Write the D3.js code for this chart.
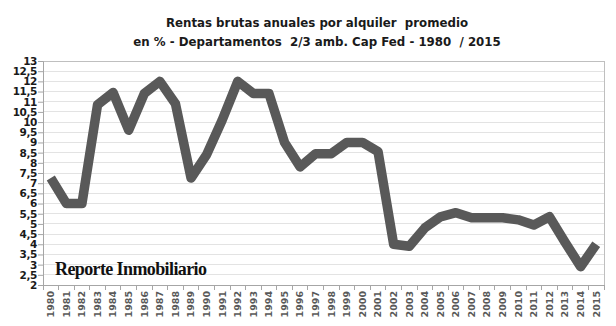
<!DOCTYPE html>
<html><head><meta charset="utf-8">
<script src="https://cdn.jsdelivr.net/npm/d3@7"></script>
<style>body{margin:0;background:#fff}svg{display:block}</style>
</head><body>
<svg id="c" width="616" height="326"></svg>
<script>
const years = ["1980","1981","1982","1983","1984","1985","1986","1987","1988","1989","1990","1991","1992","1993","1994","1995","1996","1997","1998","1999","2000","2001","2002","2003","2004","2005","2006","2007","2008","2009","2010","2011","2012","2013","2014","2015"];
const rentas = [7.25,6.0,6.0,10.85,11.45,9.6,11.4,12.0,10.9,7.25,8.4,10.1,12.0,11.4,11.4,9.0,7.8,8.45,8.45,9.0,9.0,8.55,4.0,3.9,4.8,5.35,5.55,5.3,5.3,5.3,5.2,4.95,5.35,4.1,2.9,4.0];
const yTicks = [2,2.5,3,3.5,4,4.5,5,5.5,6,6.5,7,7.5,8,8.5,9,9.5,10,10.5,11,11.5,12,12.5,13];
const titleLines = ["Rentas brutas anuales por alquiler  promedio","en % - Departamentos  2/3 amb. Cap Fed - 1980  / 2015"];
const watermark = "Reporte Inmobiliario";

const svg = d3.select("#c");
const L = 43, R = 604, T = 61, B = 285;
const x = d3.scaleBand().domain(years).range([L, R]);
const y = d3.scaleLinear().domain([2, 13]).range([B, T]);
const fmt = v => String(v).replace(".", ",");

// gridlines
svg.append("g").selectAll("line").data(yTicks.filter(v => v > 2)).join("line")
  .attr("x1", L).attr("x2", R).attr("y1", d => y(d)).attr("y2", d => y(d))
  .attr("stroke", "#e3e3e3").attr("stroke-width", 1).attr("shape-rendering", "crispEdges");
// border top/right
svg.append("path").attr("d", `M${L},${T}H${R}V${B}`).attr("fill", "none")
  .attr("stroke", "#bfbfbf").attr("stroke-width", 1).attr("shape-rendering", "crispEdges");

// y axis
const ya = svg.append("g").attr("transform", `translate(${L},0)`)
  .call(d3.axisLeft(y).tickValues(yTicks).tickFormat(fmt).tickSize(5).tickPadding(1));
ya.select(".domain").attr("stroke", "#a6a6a6");
ya.selectAll(".tick line").attr("stroke", "#a6a6a6");
ya.selectAll("text").attr("font-family", "Verdana, 'DejaVu Sans', sans-serif").attr("font-weight", "bold")
  .attr("font-size", "10.5px").attr("fill", "#1a1a1a").attr("letter-spacing", "-0.4px");

// x axis
const xa = svg.append("g").attr("transform", `translate(0,${B})`)
  .call(d3.axisBottom(x).tickSize(0).tickSizeOuter(0));
xa.select(".domain").attr("stroke", "#a6a6a6");
xa.selectAll(".tick text").attr("transform", "rotate(-90)").attr("text-anchor", "end")
  .attr("x", -6).attr("y", 0).attr("dy", "0.35em")
  .attr("font-family", "'DejaVu Sans', sans-serif").attr("font-weight", "bold")
  .attr("font-size", "9.5px").attr("fill", "#595959");
// category boundary ticks
svg.append("g").selectAll("line").data(years.concat(["end"])).join("line")
  .attr("x1", (d, i) => L + i * x.step()).attr("x2", (d, i) => L + i * x.step())
  .attr("y1", B).attr("y2", B + 5).attr("stroke", "#a6a6a6").attr("shape-rendering", "crispEdges");

// watermark
svg.append("text").attr("x", 55).attr("y", 275).text(watermark)
  .attr("font-family", "'Liberation Serif', 'DejaVu Serif', serif").attr("font-weight", "bold")
  .attr("font-size", "18px").attr("fill", "#111").attr("textLength", 152);

// line
const line = d3.line().x((d, i) => x(years[i]) + x.bandwidth() / 2).y(d => y(d));
svg.append("path").datum(rentas).attr("d", line).attr("fill", "none")
  .attr("stroke", "#595959").attr("stroke-width", 9.5).attr("stroke-linejoin", "round").attr("stroke-linecap", "butt");

// title
svg.append("g").selectAll("text").data(titleLines).join("text")
  .attr("x", 317).attr("y", (d, i) => 27 + i * 19).attr("text-anchor", "middle")
  .attr("font-family", "Verdana, 'DejaVu Sans', sans-serif").attr("font-weight", "bold")
  .attr("font-size", "11.8px").attr("fill", "#1a1a1a").attr("xml:space", "preserve")
  .style("white-space", "pre").text(d => d);
</script>
</body></html>
